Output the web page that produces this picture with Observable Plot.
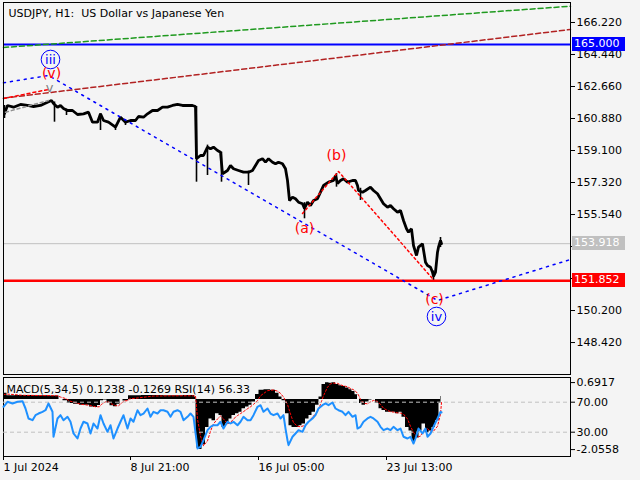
<!DOCTYPE html>
<html><head><meta charset="utf-8">
<script src="https://cdn.jsdelivr.net/npm/d3@7"></script>
<script src="https://cdn.jsdelivr.net/npm/@observablehq/plot@0.6"></script>
<style>
body{margin:0;background:#f4f4f4;}
#chart{position:relative;width:640px;height:480px;overflow:hidden;background:#f4f4f4;}
#chart svg{position:absolute;left:0;}
.valbox{position:absolute;left:572px;width:51px;height:14px;padding-left:2px;color:#fff;font:11px "DejaVu Sans";line-height:14px;white-space:nowrap;z-index:5;}
</style></head><body><div id="chart"></div>
<script>
// ---------- data ----------
const title = "USDJPY, H1:\u00a0 US Dollar vs Japanese Yen";
const indicatorLabel = "MACD(5,34,5) 0.1238 -0.1269 RSI(14) 56.33";
const xTicks = [0, 127, 255, 383];
const xLabels = ["1 Jul 2024", "8 Jul 21:00", "16 Jul 05:00", "23 Jul 13:00"];
const priceTicks = [166.22, 164.44, 162.66, 160.88, 159.10, 157.32, 155.54, 153.76, 151.98, 150.20, 148.42];
const hiddenTickLabels = [153.76, 151.98]; // covered by the value boxes in the reference
const levelVals = [165.000, 153.918, 151.852];
const macdTicks = [0.6917, -2.0558];
const rsiTicks = [70, 30];

const priceIdx = [
1,4,10,17,24,30,37,44,48,50,
54,57,60,64,69,74,80,85,89,94,
97,100,105,112,117,122,127,132,135,140,
144,149,154,159,164,169,174,179,184,189,
192,193,197,200,204,207,210,214,217,219,
224,227,230,235,240,245,249,252,255,259,
262,265,269,272,275,279,282,284,286,289,
292,295,299,301,304,307,310,314,317,320,
325,330,332,334,337,340,344,349,352,354,
355,359,362,367,370,374,377,380,384,387,
390,394,397,400,403,405,408,410,413,415,
419,422,424,427,429,430,432,434,435,437,
438];
const priceClose = [
161.159,161.604,161.509,161.660,161.604,161.548,161.604,161.787,161.882,161.715,
161.509,161.604,161.437,161.326,161.326,161.103,161.142,161.231,160.675,160.675,
161.142,160.770,160.675,160.397,160.953,160.675,160.770,160.770,160.992,160.953,
161.142,161.326,161.326,161.509,161.509,161.604,161.660,161.604,161.604,161.604,
161.548,158.640,158.823,158.823,159.285,159.196,159.285,159.101,159.007,157.805,
157.989,158.267,158.083,157.989,157.894,157.894,157.989,158.267,158.545,158.640,
158.450,158.640,158.450,158.361,158.450,158.361,158.083,157.432,156.320,156.504,
156.415,156.226,156.137,155.875,156.226,156.042,156.320,156.415,156.782,157.155,
157.338,157.432,157.711,157.266,157.432,157.527,157.338,157.432,157.432,157.155,
156.877,156.782,156.877,157.060,156.877,156.693,156.415,156.137,155.948,156.042,
155.859,155.670,155.764,155.208,154.746,154.557,154.746,153.818,153.262,153.723,
153.912,152.889,152.705,152.611,152.333,152.094,152.333,153.445,153.723,154.096,
153.918];

const spikeIdx  = [1,51,63,97,112,122,193,204,218,245,301,333,357,430,437];
const spikeLow  = [160.881,160.675,161.048,160.213,160.213,160.491,157.338,157.711,157.338,157.155,155.302,157.060,156.320,151.870,153.700];
const spikeHigh = [161.604,161.800,161.400,161.142,160.500,160.800,161.548,159.400,159.007,157.950,156.200,157.820,157.000,152.400,154.263];

const greenIdx = [0, 567], greenPrice = [164.830, 167.127];
const redTrendIdx = [0, 567], redTrendPrice = [162.010, 165.831];
const waveBlueIdx = [0, 45, 434, 567], waveBluePrice = [162.866, 163.272, 150.758, 153.039];
const waveRedIdx = [0, 45], waveRedPrice = [161.993, 162.494];
const waveGreyIdx = [2, 45], waveGreyPrice = [161.231, 161.882];
const waveAbcIdx = [299, 335, 429], waveAbcPrice = [155.597, 157.933, 151.982];

const waveLabels = ["iii", "(v)", "v", "(a)", "(b)", "(c)", "iv"];
const waveLabelIdx = [47, 48, 46, 301, 333, 431, 433];
const waveLabelPrice = [164.162, 163.383, 162.605, 154.763, 158.823, 150.814, 149.869];

const macdIdx = [
0,3,4,20,40,54,57,62,66,74,
78,84,88,92,96,98,102,105,108,112,
115,118,121,124,126,150,170,190,192,193,
194,197,200,204,207,210,214,217,220,224,
227,230,234,237,240,244,247,250,254,257,
264,270,274,277,280,284,287,290,294,297,
300,304,307,310,314,317,320,324,327,330,
334,337,340,344,347,350,353,355,357,360,
364,367,370,374,377,380,384,387,390,394,
397,400,404,407,410,414,417,420,424,427,
430,434,437,438];
const macdVal = [
0.25,0.25,0.15,0.16,0.15,0.14,0.0,-0.05,-0.17,-0.2,
-0.24,-0.24,-0.31,-0.33,-0.25,-0.05,-0.02,-0.15,-0.26,-0.3,
-0.2,0.0,-0.06,-0.05,0.15,0.16,0.15,0.16,0.1,-1.5,
-2.0,-2.05,-1.86,-1.15,-0.8,-0.87,-0.59,-0.66,-1.15,-1.01,
-0.8,-0.66,-0.59,-0.52,-0.38,-0.31,-0.24,-0.1,0.2,0.38,
0.4,0.38,0.25,0.1,-0.05,-0.59,-1.08,-1.15,-1.15,-1.08,
-1.01,-0.8,-0.66,-0.52,-0.24,0.1,0.61,0.68,0.66,0.69,
0.61,0.56,0.53,0.47,0.4,0.33,0.19,0.0,-0.17,-0.24,
-0.1,-0.02,0.0,-0.17,-0.38,-0.45,-0.52,-0.52,-0.52,-0.59,
-0.52,-0.73,-1.15,-1.29,-1.72,-1.58,-1.29,-1.01,-1.37,-1.29,
-1.15,-0.87,-0.17,0.1238];
const sigVal = [
0.2,0.22,0.22,0.17,0.16,0.15,0.1,0.04,-0.06,-0.16,
-0.2,-0.23,-0.26,-0.3,-0.3,-0.2,-0.1,-0.1,-0.18,-0.25,
-0.26,-0.15,-0.06,-0.05,0.02,0.14,0.15,0.15,0.15,-0.3,
-0.8,-1.5,-1.9,-1.7,-1.3,-1.0,-0.8,-0.68,-0.8,-1.0,
-0.95,-0.8,-0.66,-0.58,-0.5,-0.38,-0.3,-0.2,-0.05,0.15,
0.36,0.39,0.34,0.25,0.1,-0.2,-0.6,-0.95,-1.1,-1.12,
-1.08,-0.98,-0.82,-0.68,-0.5,-0.2,0.15,0.5,0.64,0.67,
0.66,0.6,0.56,0.52,0.45,0.4,0.3,0.18,0.0,-0.15,
-0.18,-0.1,-0.04,-0.08,-0.2,-0.36,-0.45,-0.5,-0.52,-0.55,
-0.56,-0.6,-0.8,-1.1,-1.35,-1.55,-1.5,-1.3,-1.2,-1.3,
-1.3,-1.1,-0.6,-0.1269];

const rsiIdx = [
0,4,9,14,19,22,25,29,32,35,
39,42,45,49,50,54,57,60,64,67,
70,74,77,80,84,87,90,94,97,100,
104,107,110,114,117,120,124,127,130,134,
137,140,144,147,150,154,157,160,164,167,
170,174,177,180,184,187,190,194,197,200,
204,207,210,214,217,220,224,227,230,234,
237,240,244,247,250,254,257,260,264,267,
270,274,277,280,282,284,285,289,292,295,
299,302,305,309,312,315,319,322,325,329,
332,335,339,342,345,349,352,354,357,360,
364,367,370,374,377,380,384,387,390,394,
397,400,404,407,410,412,415,419,422,424,
427,430,434,437,438];
const rsiVal = [
63.9,70.5,68.3,70.5,71.3,61.6,48.3,46.0,52.7,54.9,
57.2,59.3,68.3,57.2,23.9,48.3,52.7,46.0,50.5,43.9,
28.3,21.6,34.9,43.9,41.6,28.3,41.6,34.9,52.7,41.6,
30.5,39.3,21.6,34.9,43.9,52.7,34.9,48.3,43.9,59.3,
52.7,54.9,61.6,50.5,57.2,54.9,59.3,59.3,57.2,50.5,
57.2,59.3,57.2,46.0,50.5,54.9,50.5,8.3,10.5,19.3,
32.7,37.2,39.3,39.3,43.9,34.9,43.9,41.6,43.9,39.3,
43.9,50.5,46.0,46.0,52.7,63.9,66.0,57.2,61.6,54.9,
52.7,54.9,48.3,52.7,34.9,19.3,12.7,23.9,28.3,32.7,
30.5,39.3,43.9,48.3,52.7,61.6,66.0,68.3,66.0,69.6,
61.6,59.3,57.2,52.7,57.2,50.5,52.7,34.9,37.2,43.9,
48.3,50.5,48.3,43.9,37.2,32.7,34.9,32.7,37.2,32.7,
34.9,23.9,21.6,23.9,14.9,21.6,34.9,28.3,34.9,23.9,
28.3,37.2,48.3,57.2,56.33];

// ---------- tables ----------
const pts = (xs, ys) => xs.map((x, k) => ({i: x, v: ys[k]}));
const price = pts(priceIdx, priceClose);
const spikes = spikeIdx.map((i, k) => ({i, lo: spikeLow[k], hi: spikeHigh[k]}));
const labels = waveLabels.map((t, k) => ({t, i: waveLabelIdx[k], v: waveLabelPrice[k]}));
const macd = pts(macdIdx, macdVal);
const signal = pts(macdIdx, sigVal);
const rsi = pts(rsiIdx, rsiVal);
const xLabelMap = new Map(xTicks.map((t, k) => [t, xLabels[k]]));
const circled = labels.filter(d => d.t === "iii" || d.t === "iv");

const FONT = "DejaVu Sans";
const baseStyle = {background: "transparent", fontFamily: FONT, fontSize: "11px", color: "black", overflow: "visible"};
const common = {width: 640, marginLeft: 3, marginRight: 70};

const mainPlot = Plot.plot({
  ...common, height: 376, marginTop: 2, marginBottom: 2,
  style: baseStyle,
  x: {domain: [0, 567], axis: null},
  y: {domain: [146.642, 167.332]},
  marks: [
    Plot.ruleY([levelVals[1]], {stroke: "#c0c0c0", strokeWidth: 1}),
    Plot.line(price, {x: "i", y: "v", stroke: "black", strokeWidth: 2.8, strokeLinejoin: "miter"}),
    Plot.ruleX(spikes, {x: "i", y1: "lo", y2: "hi", stroke: "black", strokeWidth: 1.6}),
    Plot.ruleY([levelVals[0]], {stroke: "#0000ff", strokeWidth: 2}),
    Plot.ruleY([levelVals[2]], {stroke: "#ff0000", strokeWidth: 2.5}),
    Plot.line(pts(greenIdx, greenPrice), {x: "i", y: "v", stroke: "#1f9a1f", strokeDasharray: "5,3"}),
    Plot.line(pts(redTrendIdx, redTrendPrice), {x: "i", y: "v", stroke: "#b22222", strokeDasharray: "5,3"}),
    Plot.line(pts(waveBlueIdx, waveBluePrice), {x: "i", y: "v", stroke: "#0000ff", strokeDasharray: "2,5"}),
    Plot.line(pts(waveRedIdx, waveRedPrice), {x: "i", y: "v", stroke: "#ff0000", strokeDasharray: "3,3"}),
    Plot.line(pts(waveGreyIdx, waveGreyPrice), {x: "i", y: "v", stroke: "#909090", strokeDasharray: "3,3"}),
    Plot.line(pts(waveAbcIdx, waveAbcPrice), {x: "i", y: "v", stroke: "#ff0000", strokeDasharray: "2,3"}),
    Plot.frame({stroke: "black"}),
    Plot.dot(circled, {x: "i", y: "v", r: 9.3, stroke: "#0000ff", fill: "none", strokeWidth: 1}),
    Plot.text(circled, {x: "i", y: "v", text: "t", fill: "#0000ff", fontSize: 13}),
    Plot.text(labels.filter(d => d.t.startsWith("(")), {x: "i", y: "v", text: "t", fill: "#ff0000", fontSize: 14}),
    Plot.text(labels.filter(d => d.t === "v"), {x: "i", y: "v", text: "t", fill: "#808080", fontSize: 13}),
    Plot.axisY({anchor: "right", ticks: priceTicks, tickSize: 4, tickPadding: 2, label: null,
      tickFormat: d => hiddenTickLabels.includes(d) ? "" : d.toFixed(3)}),
    Plot.text([title], {text: d => d, frameAnchor: "top-left", dx: 5, dy: 6.7, fontSize: 11, fill: "black"})
  ]
});
mainPlot.style.top = "0px";

const macdPlot = Plot.plot({
  ...common, height: 103, marginTop: 0, marginBottom: 24,
  style: baseStyle,
  x: {domain: [0, 567]},
  y: {domain: [-2.339, 0.9003]},
  marks: [
    Plot.areaY(macd, {x: "i", y: "v", curve: "step", fill: "black"}),
    Plot.line(signal, {x: "i", y: "v", stroke: "#ff0000", strokeDasharray: "2,2", strokeWidth: 1}),
    Plot.frame({stroke: "black"}),
    Plot.axisY({anchor: "right", ticks: macdTicks, tickFormat: d => d.toFixed(4), tickSize: 4, tickPadding: 2, label: null}),
    Plot.axisX({ticks: xTicks, tickFormat: d => xLabelMap.get(d), textAnchor: "start", tickSize: 4, tickPadding: 3, label: null})
  ]
});
macdPlot.style.top = "377px";

const rsiPlot = Plot.plot({
  ...common, height: 103, marginTop: 0, marginBottom: 24,
  style: baseStyle,
  x: {domain: [0, 567], axis: null},
  y: {domain: [-2.4, 102.93]},
  marks: [
    Plot.ruleY(rsiTicks, {stroke: "#c0c0c0", strokeDasharray: "4,3"}),
    Plot.line(rsi, {x: "i", y: "v", stroke: "#1e90ff", strokeWidth: 2}),
    Plot.axisY({anchor: "right", ticks: rsiTicks, tickFormat: d => d.toFixed(2), tickSize: 4, tickPadding: 2, label: null}),
    Plot.text([indicatorLabel], {text: d => d, frameAnchor: "top-left", dx: 3, dy: 7.2, fontSize: 11, fill: "black"})
  ]
});
rsiPlot.style.top = "377px";

const chart = document.getElementById("chart");
chart.append(mainPlot, macdPlot, rsiPlot);

// value boxes on the price scale, placed through the plot's y scale
const ys = mainPlot.scale("y");
const boxColors = ["#0000ff", "#c0c0c0", "#ff0000"];
levelVals.forEach((v, k) => {
  const div = document.createElement("div");
  div.className = "valbox";
  div.style.top = (Math.round(ys.apply(v)) - 7) + "px";
  div.style.background = boxColors[k];
  div.textContent = v.toFixed(3);
  chart.append(div);
});
</script>
</body></html>
